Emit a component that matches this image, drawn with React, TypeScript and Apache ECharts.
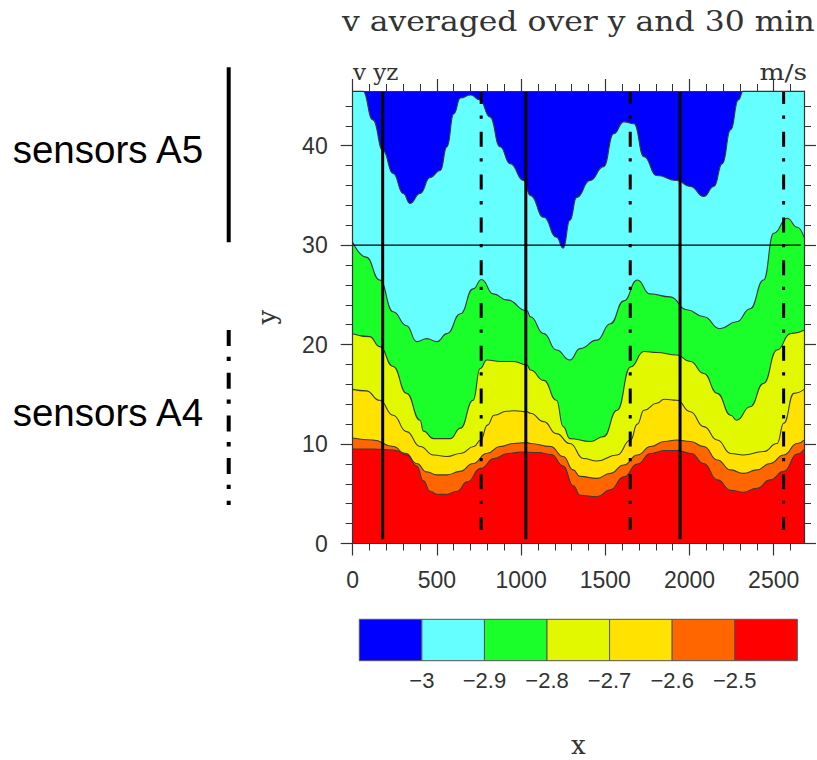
import { useEffect, useRef } from 'react';
import * as echarts from 'echarts';

// ---------- data ----------
const X_MAX = 2680;
const Y_MAX = 45.5;
const X_TICKS = [0, 500, 1000, 1500, 2000, 2500];
const Y_TICKS = [0, 10, 20, 30, 40];

// contour boundaries, [x, y]; area below each line takes the colour of the next band
const LEVEL_M3_0 = [[0,45.5],[60,45.5],[120,42.6],[180,39.5],[240,37.2],[300,35.2],[340,34.2],[400,35.2],[460,36.8],[520,37.5],[560,39.9],[600,43.2],[640,44.8],[700,45.1],[755,44.6],[815,42.9],[875,39.9],[935,38.2],[1015,36.5],[1055,35.0],[1135,32.8],[1210,30.8],[1250,29.7],[1290,32.5],[1330,34.8],[1410,36.5],[1490,37.9],[1550,41.2],[1610,42.4],[1670,42.2],[1730,38.9],[1805,37.0],[1925,36.5],[2005,35.9],[2085,34.9],[2145,35.9],[2195,38.2],[2245,41.6],[2290,44.6],[2320,45.5],[2680,45.5]];
const LEVEL_M2_9 = [[0,30.3],[80,28.8],[160,26.5],[240,23.3],[320,21.9],[380,20.3],[440,20.6],[500,20.3],[560,21.1],[640,23.1],[715,25.6],[765,26.55],[835,25.1],[915,24.5],[1035,23.4],[1055,22.8],[1135,21.1],[1210,19.45],[1290,18.45],[1350,19.6],[1450,20.45],[1530,22.1],[1610,24.4],[1690,26.5],[1765,25.1],[1885,24.8],[1985,23.5],[2085,22.8],[2180,21.6],[2280,22.3],[2360,23.6],[2440,26.5],[2500,31.2],[2580,32.7],[2640,31.8],[2680,30.8]];
const LEVEL_M2_8 = [[0,21.1],[100,20.8],[160,19.8],[240,17.8],[320,15.1],[400,12.4],[420,11.3],[480,10.55],[580,10.55],[640,11.6],[715,14.4],[757,17.6],[797,18.45],[875,18.3],[955,18.3],[1035,17.95],[1055,17.45],[1135,16.4],[1210,14.4],[1250,11.75],[1290,10.55],[1410,10.25],[1490,10.75],[1570,13.4],[1650,17.75],[1730,19.3],[1805,19.2],[1925,18.95],[2005,18.3],[2085,17.1],[2165,15.1],[2245,12.9],[2280,12.4],[2360,13.75],[2440,16.1],[2520,19.45],[2600,21.1],[2680,21.45]];
const LEVEL_M2_7 = [[0,15.5],[80,15.35],[160,14.4],[240,12.9],[320,11.25],[400,9.75],[480,8.9],[560,8.75],[640,9.05],[720,9.75],[760,10.4],[800,11.9],[840,12.9],[915,13.3],[960,13.35],[1035,13.25],[1055,13.1],[1135,12.25],[1210,11.05],[1290,10.05],[1370,8.55],[1450,8.3],[1570,8.9],[1650,10.4],[1690,12.0],[1730,13.4],[1805,14.1],[1850,14.5],[1925,14.4],[2005,13.25],[2085,11.75],[2165,10.4],[2245,9.05],[2320,8.9],[2440,9.25],[2520,10.05],[2560,12.1],[2620,15.1],[2680,15.5]];
const LEVEL_M2_6 = [[0,10.6],[120,10.4],[240,9.75],[320,8.9],[380,8.05],[440,7.2],[500,6.9],[560,6.9],[637,7.25],[716,8.05],[795,9.05],[875,9.75],[955,10.05],[1035,10.15],[1055,10.05],[1175,9.75],[1250,8.75],[1310,7.4],[1350,6.75],[1450,6.55],[1530,7.05],[1610,7.9],[1690,8.9],[1770,9.75],[1850,10.25],[1925,10.4],[2005,10.25],[2085,9.75],[2165,8.4],[2245,7.4],[2320,7.05],[2400,7.4],[2480,8.05],[2560,8.9],[2640,10.05],[2680,10.4]];
const LEVEL_M2_5 = [[0,9.5],[120,9.5],[240,9.4],[320,9.05],[380,7.8],[420,6.3],[460,5.25],[500,4.95],[560,4.95],[620,5.25],[680,6.2],[760,7.55],[840,8.55],[920,9.05],[1000,9.2],[1100,9.15],[1180,8.95],[1250,7.8],[1310,5.8],[1350,4.85],[1450,4.7],[1530,5.4],[1610,6.7],[1690,8.0],[1770,9.05],[1850,9.35],[1930,9.35],[2010,9.05],[2085,8.05],[2165,6.4],[2245,5.35],[2320,5.15],[2400,5.55],[2480,6.4],[2560,7.25],[2640,9.0],[2680,9.45]];

const BAND_COLORS = ['#0000ff', '#66ffff', '#1aff2a', '#e1f800', '#ffe200', '#ff6600', '#ff0000'];
const COLORBAR_EDGES = [-3.1, -3, -2.9, -2.8, -2.7, -2.6, -2.5, -2.4];
const COLORBAR_LABELS = [-3, -2.9, -2.8, -2.7, -2.6, -2.5];

const SENSORS_A5_X = [178, 1028, 1944];
const SENSORS_A4_X = [763, 1648, 2559];
const REF_LINE_Y = 30;

const TITLE = 'v averaged over y and 30 min';

// ---------- chart ----------
const SERIF = '"DejaVu Serif", "Liberation Serif", serif';
const SANS = '"Liberation Sans", Arial, sans-serif';
const INK = '#333';

export default function App() {
  const ref = useRef<HTMLDivElement>(null);

  useEffect(() => {
    if (!ref.current) return;
    const chart = echarts.init(ref.current, undefined, { renderer: 'svg' });

    const levels = [LEVEL_M3_0, LEVEL_M2_9, LEVEL_M2_8, LEVEL_M2_7, LEVEL_M2_6, LEVEL_M2_5];
    const levelNames = ['-3', '-2.9', '-2.8', '-2.7', '-2.6', '-2.5'];
    const contourSeries = levels.map((d, i) => ({
      type: 'line',
      name: levelNames[i],
      xAxisIndex: 0,
      yAxisIndex: 0,
      data: d,
      smooth: 0.5,
      smoothMonotone: 'x',
      showSymbol: false,
      symbol: 'none',
      lineStyle: { color: '#3a3a3a', width: 1.1 },
      areaStyle: { color: BAND_COLORS[i + 1], opacity: 1, origin: 'start' },
      z: 2,
    }));

    const solidSeries = SENSORS_A5_X.map((x) => ({
      type: 'line',
      name: 'sensors A5',
      xAxisIndex: 0,
      yAxisIndex: 0,
      data: [[x, Y_MAX], [x, 0.42]],
      showSymbol: false,
      symbol: 'none',
      lineStyle: { color: '#000', width: 3 },
      z: 4,
    }));
    const dashSeries = SENSORS_A4_X.map((x) => ({
      type: 'line',
      name: 'sensors A4',
      xAxisIndex: 0,
      yAxisIndex: 0,
      data: [[x, Y_MAX], [x, 1.36]],
      showSymbol: false,
      symbol: 'none',
      lineStyle: { color: '#000', width: 3, type: [15, 11.5, 3.3, 13], dashOffset: 2 },
      z: 4,
    }));
    const refLine = {
      type: 'line',
      name: 'y=30',
      xAxisIndex: 0,
      yAxisIndex: 0,
      data: [[0, REF_LINE_Y], [2663, REF_LINE_Y]],
      showSymbol: false,
      symbol: 'none',
      lineStyle: { color: '#000', width: 1.2 },
      z: 3,
    };

    const bins = COLORBAR_EDGES.slice(0, -1).map((e, i) => [e, COLORBAR_EDGES[i + 1], 0.5]);
    const colorbar = {
      type: 'custom',
      name: 'colorbar',
      xAxisIndex: 2,
      yAxisIndex: 2,
      data: bins,
      encode: { x: [0, 1], y: 2 },
      renderItem: (params: any, api: any) => {
        const a = api.coord([api.value(0), 1]);
        const b = api.coord([api.value(1), 0]);
        return {
          type: 'rect',
          shape: { x: a[0], y: a[1], width: b[0] - a[0], height: b[1] - a[1] },
          style: { fill: BAND_COLORS[params.dataIndex], stroke: '#555', lineWidth: 1 },
        };
      },
    };

    const frameAxisLine = { show: true, onZero: false, lineStyle: { color: INK, width: 1.2 } };
    const minor = { show: true, splitNumber: 5, length: 7, lineStyle: { color: INK, width: 1 } };
    const tickLabel = { color: INK, fontFamily: SANS, fontSize: 23 };
    const plain = (v: number) => String(v);

    const mainX = {
      gridIndex: 0, type: 'value', min: 0, max: X_MAX, interval: 500, z: 10,
      axisLine: frameAxisLine,
      axisTick: { show: true, customValues: X_TICKS, length: 12, lineStyle: { color: INK, width: 1.2 } },
      minorTick: minor,
      splitLine: { show: false },
      minorSplitLine: { show: false },
    };
    const mainY = {
      gridIndex: 0, type: 'value', min: 0, max: Y_MAX, interval: 10, z: 10,
      axisLine: frameAxisLine,
      axisTick: { show: true, customValues: Y_TICKS, length: 12, lineStyle: { color: INK, width: 1.2 } },
      minorTick: minor,
      splitLine: { show: false },
      minorSplitLine: { show: false },
    };

    chart.setOption({
      animation: false,
      backgroundColor: '#fff',
      grid: [
        { left: 352.7, width: 451.3, top: 91, height: 452.5, show: true, backgroundColor: BAND_COLORS[0], borderWidth: 0, containLabel: false, outerBoundsMode: 'none' },
        { left: 359.3, width: 438, top: 619.3, height: 41.4, show: false, containLabel: false, outerBoundsMode: 'none' },
      ],
      xAxis: [
        {
          ...mainX, position: 'bottom',
          name: 'x', nameLocation: 'middle', nameGap: 188,
          nameTextStyle: { fontFamily: SERIF, fontSize: 26, color: INK },
          axisLabel: { ...tickLabel, customValues: X_TICKS, margin: 25, formatter: plain },
        },
        { ...mainX, position: 'top', axisLabel: { show: false } },
        {
          gridIndex: 1, type: 'value', min: -3.1, max: -2.4, position: 'bottom',
          axisLine: { show: false }, axisTick: { show: false }, splitLine: { show: false },
          axisLabel: {
            ...tickLabel, fontSize: 22, margin: 9, customValues: COLORBAR_LABELS,
            formatter: (v: number) => {
              const r = Math.round(v * 10) / 10;
              return (r < 0 ? '\u2212' : '') + String(Math.abs(r));
            },
          },
        },
      ],
      yAxis: [
        {
          ...mainY, position: 'left',
          name: 'y', nameLocation: 'middle', nameGap: 73,
          nameTextStyle: { fontFamily: SERIF, fontSize: 26, color: INK },
          axisLabel: { ...tickLabel, customValues: Y_TICKS, margin: 25, formatter: plain },
        },
        { ...mainY, position: 'right', axisLabel: { show: false } },
        {
          gridIndex: 1, type: 'value', min: 0, max: 1, show: false,
        },
      ],
      graphic: [
        {
          type: 'text', x: 342, y: 22, scaleX: 1.165,
          style: { text: TITLE, font: `27px ${SERIF}`, fill: INK, align: 'left', verticalAlign: 'middle', textAlign: 'left', textVerticalAlign: 'middle' },
        },
        {
          type: 'text', x: 353, y: 72,
          style: { text: 'v yz', font: `23px ${SERIF}`, fill: INK, align: 'left', verticalAlign: 'middle', textAlign: 'left', textVerticalAlign: 'middle' },
        },
        {
          type: 'text', x: 807, y: 72, scaleX: 1.15,
          style: { text: 'm/s', font: `23px ${SERIF}`, fill: INK, align: 'right', verticalAlign: 'middle', textAlign: 'right', textVerticalAlign: 'middle' },
        },
        {
          type: 'text', x: 12.7, y: 149,
          style: { text: 'sensors A5', font: `38.5px ${SANS}`, fill: '#000', align: 'left', verticalAlign: 'middle', textAlign: 'left', textVerticalAlign: 'middle' },
        },
        {
          type: 'text', x: 12.7, y: 412,
          style: { text: 'sensors A4', font: `38.5px ${SANS}`, fill: '#000', align: 'left', verticalAlign: 'middle', textAlign: 'left', textVerticalAlign: 'middle' },
        },
        {
          type: 'line', shape: { x1: 228.7, y1: 67.3, x2: 228.7, y2: 242.3 },
          style: { stroke: '#000', lineWidth: 4 },
        },
        {
          type: 'line', shape: { x1: 228.7, y1: 330, x2: 228.7, y2: 505 },
          style: { stroke: '#000', lineWidth: 4, lineDash: [16, 10.7, 4.3, 11.7] },
        },
      ],
      series: [...contourSeries, refLine, ...solidSeries, ...dashSeries, colorbar],
    });

    return () => chart.dispose();
  }, []);

  return (
    <div
      ref={ref}
      style={{ position: 'fixed', left: 0, top: 0, width: 817, height: 760, background: '#fff' }}
    />
  );
}
